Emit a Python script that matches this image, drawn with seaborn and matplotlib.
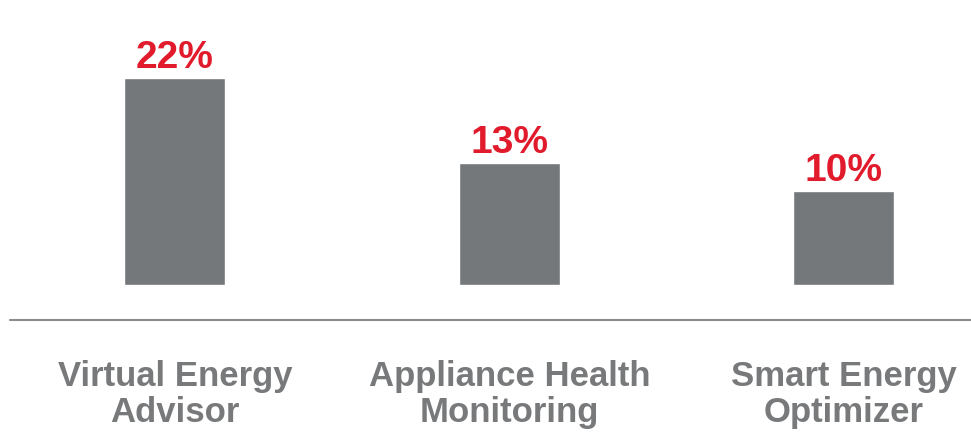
import matplotlib
matplotlib.use("Agg")
import matplotlib.pyplot as plt
from matplotlib.lines import Line2D
import seaborn as sns
import pandas as pd

categories = ["Virtual Energy\nAdvisor", "Appliance Health\nMonitoring", "Smart Energy\nOptimizer"]
shares = [22, 13, 10]
value_labels = ["22%", "13%", "10%"]

BAR_GRAY = "#74787b"
RED = "#e11b2c"
TEXT_GRAY = "#77797b"

sns.set_theme(style="white")
plt.rcParams["font.family"] = ["Liberation Sans", "DejaVu Sans"]

df = pd.DataFrame({"category": categories, "share": shares})

fig = plt.figure(figsize=(9.71, 4.33), dpi=100)
ax = fig.add_axes([0, 0.342, 1, 0.658])

sns.barplot(data=df, x="category", y="share", color=BAR_GRAY, width=0.302,
            saturation=1, ax=ax)

ax.set_xlim(-0.523, 2.380)
ax.set_ylim(0, 30.3)

for i, (v, lab) in enumerate(zip(shares, value_labels)):
    ax.annotate(lab, (i, v), xytext=(0, 7), textcoords="offset points",
                ha="center", va="baseline", color=RED, fontsize=28,
                fontweight="bold")

ax.set_xlabel("")
ax.set_ylabel("")
ax.set_yticks([])
ax.tick_params(axis="x", length=0, pad=54)
for t in ax.get_xticklabels():
    t.set_fontsize(25)
    t.set_fontweight("bold")
    t.set_color(TEXT_GRAY)
    t.set_linespacing(1.12)
    t.set_verticalalignment("top")
for s in ax.spines.values():
    s.set_visible(False)

# horizontal rule separating bars from category names
fig.add_artist(Line2D([10 / 971, 1], [1 - 320 / 433] * 2, color="#8c8c8c",
                      linewidth=1.5, transform=fig.transFigure))

fig.savefig("out.png", dpi=100)
